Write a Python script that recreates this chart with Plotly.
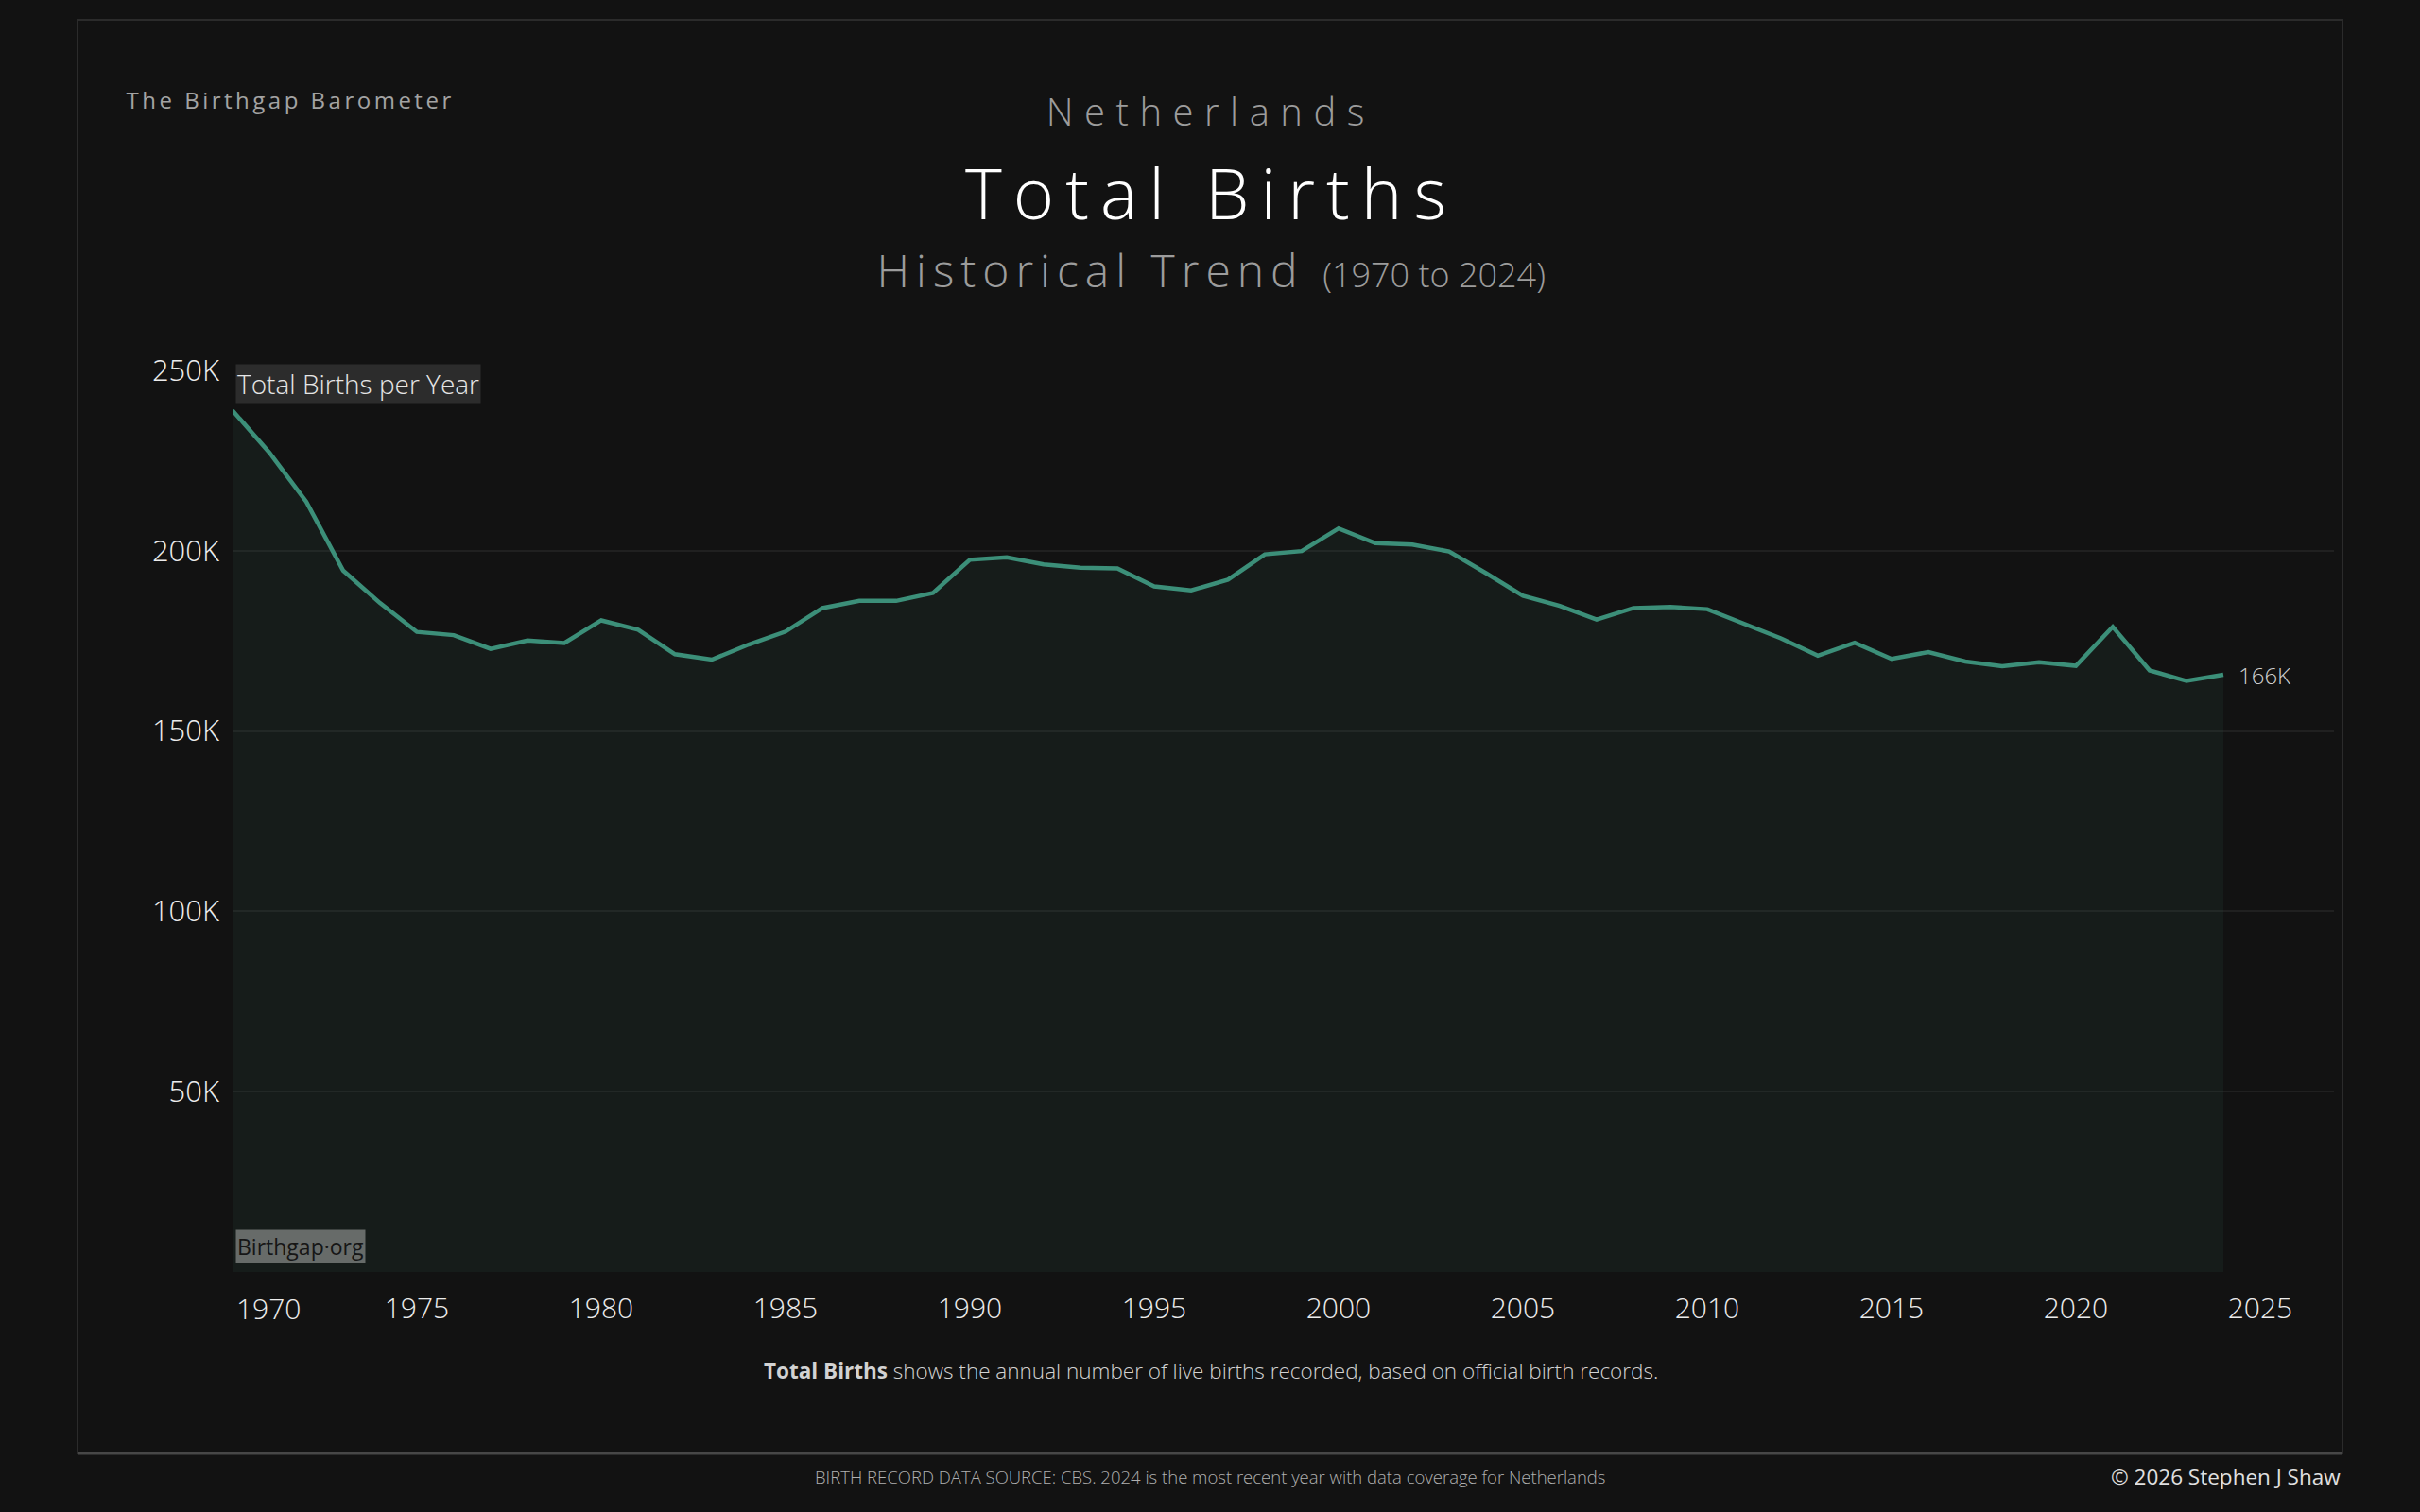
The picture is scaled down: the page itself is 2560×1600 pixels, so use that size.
import plotly.graph_objects as go

# ---------------- data ----------------
years = list(range(1970, 2025))
births = [238900, 227200, 213600, 194500, 185500, 177500, 176600, 172800, 175100, 174400,
          180700, 178100, 171300, 169800, 174000, 177600, 184100, 186100, 186100, 188300,
          197500, 198200, 196200, 195300, 195100, 190100, 189000, 192000, 199000, 199900,
          206200, 202100, 201700, 199800, 193800, 187500, 184700, 180900, 184100, 184400,
          183800, 179600, 175700, 170900, 174500, 170000, 171900, 169300, 168000, 169100,
          168100, 178900, 166800, 163900, 165600]
y_ticks = [50000, 100000, 150000, 200000, 250000]
y_tick_labels = ["50K", "100K", "150K", "200K", "250K"]
x_ticks = [1975, 1980, 1985, 1990, 1995, 2000, 2005, 2010, 2015, 2020, 2025]
x_tick_labels = [str(v) for v in x_ticks]

country = "Netherlands"
title = "Total Births"
subtitle = "Historical Trend"
period = "(1970 to 2024)"

# ---------------- layout geometry ----------------
W, H = 2560, 1600
PL, PR, PT, PB = 246, 2469, 392, 1346   # plot area in pixels


def px(x):
    return (x - PL) / (PR - PL)


def py(y):
    return (PB - y) / (PB - PT)


BG = "#121212"
LINE = "#3c8f79"
FILL = "rgba(58,118,98,0.1)"
FONT = "Open Sans"

fig = go.Figure()
fig.add_trace(go.Scatter(
    x=years, y=births, mode="lines",
    line=dict(color=LINE, width=4.5),
    fill="tozeroy", fillcolor=FILL,
    hoverinfo="skip", showlegend=False,
))

ann = []
# title block
ann.append(dict(text=country, x=px(1281), y=py(117), xref="paper", yref="paper",
                showarrow=False, xanchor="center", yanchor="middle",
                font=dict(family=FONT, size=40, color="#9c9c9c", weight=300)))
ann.append(dict(text=title, x=px(1281), y=py(204), xref="paper", yref="paper",
                showarrow=False, xanchor="center", yanchor="middle",
                font=dict(family=FONT, size=74, color="#ffffff", weight=300)))
ann.append(dict(text=subtitle + " <span style='font-size:36px'>" + period + "</span>",
                x=px(1281), y=py(286), xref="paper", yref="paper",
                showarrow=False, xanchor="center", yanchor="middle",
                font=dict(family=FONT, size=48, color="#9c9c9c", weight=300)))
# brand
ann.append(dict(text="The Birthgap Barometer", x=px(307), y=py(105), xref="paper", yref="paper",
                showarrow=False, xanchor="center", yanchor="middle",
                font=dict(family=FONT, size=24, color="#a3a3a3")))
# in-chart labels
ann.append(dict(text="Total Births per Year", x=px(249), y=py(385), xref="paper", yref="paper",
                showarrow=False, xanchor="left", yanchor="top",
                bgcolor="#2c2c2c", borderpad=1,
                font=dict(family=FONT, size=28, color="#e6e6e6", weight=300)))
ann.append(dict(text="Birthgap·org", x=px(249), y=py(1337), xref="paper", yref="paper",
                showarrow=False, xanchor="left", yanchor="bottom",
                bgcolor="#676b69", borderpad=1,
                font=dict(family=FONT, size=23, color="#161616")))
# end value label
ann.append(dict(text=f"{round(births[-1] / 1000)}K", x=years[-1], y=births[-1], xref="x", yref="y",
                showarrow=False, xanchor="left", yanchor="middle", xshift=14,
                font=dict(family=FONT, size=24, color="#cfcfcf", weight=300)))
# first x tick label (left aligned so it stays inside)
ann.append(dict(text=str(years[0]), x=years[0], y=py(1384), xref="x", yref="paper",
                showarrow=False, xanchor="left", yanchor="middle", xshift=2,
                font=dict(family=FONT, size=30, color="#ececec", weight=300)))
# caption
ann.append(dict(text="<b>Total Births</b> shows the annual number of live births recorded, based on official birth records.",
                x=px(1281), y=py(1450), xref="paper", yref="paper",
                showarrow=False, xanchor="center", yanchor="middle",
                font=dict(family=FONT, size=22.5, color="#d2d2d2", weight=300)))
# footer
ann.append(dict(text="BIRTH RECORD DATA SOURCE: CBS. 2024 is the most recent year with data coverage for Netherlands",
                x=px(1280), y=py(1562), xref="paper", yref="paper",
                showarrow=False, xanchor="center", yanchor="middle",
                font=dict(family=FONT, size=18.5, color="#b0b0b0", weight=300)))
ann.append(dict(text="© 2026 Stephen J Shaw", x=px(2478), y=py(1562), xref="paper", yref="paper",
                showarrow=False, xanchor="right", yanchor="middle",
                font=dict(family=FONT, size=22.5, color="#e0e0e0")))

shapes = [
    dict(type="rect", xref="paper", yref="paper", x0=px(82), x1=px(2478), y0=py(1538), y1=py(21),
         line=dict(color="#2b2b2b", width=2), fillcolor="rgba(0,0,0,0)", layer="below"),
    dict(type="line", xref="paper", yref="paper", x0=px(82), x1=px(2478), y0=py(1538), y1=py(1538),
         line=dict(color="#474747", width=3)),
]

fig.update_layout(
    width=W, height=H,
    paper_bgcolor=BG, plot_bgcolor=BG,
    margin=dict(l=PL, r=W - PR, t=PT, b=H - PB, pad=0),
    annotations=ann, shapes=shapes,
    showlegend=False,
    xaxis=dict(range=[1970, 2027], tickvals=x_ticks, ticktext=x_tick_labels,
               showgrid=False, zeroline=False, showline=False, ticks="",
               ticklabelstandoff=18,
               tickfont=dict(family=FONT, size=30, color="#ececec", weight=300)),
    yaxis=dict(range=[0, 250000], tickvals=y_ticks, ticktext=y_tick_labels,
               showgrid=True, gridcolor="#202020", gridwidth=2, zeroline=False,
               showline=False, ticks="", ticklabelstandoff=13,
               tickfont=dict(family=FONT, size=31, color="#ececec", weight=300)),
)

post = """
document.body.style.margin='0';
document.body.style.background='#121212';
var sp = {'Netherlands':'11.5px','Total Births':'12px','The Birthgap Barometer':'3.5px'};
document.querySelectorAll('text.annotation-text').forEach(function(t){
  var s = t.textContent;
  if (sp[s] !== undefined) { t.style.letterSpacing = sp[s]; }
  if (s.indexOf('Historical Trend') === 0) {
    t.style.letterSpacing = '7px';
    t.querySelectorAll('tspan').forEach(function(ts){
      if (ts.textContent.indexOf('(') === 0) { ts.style.letterSpacing = '0px'; }
    });
  }
});
"""
fig.write_html("out.html", post_script=post, config={"displayModeBar": False})
